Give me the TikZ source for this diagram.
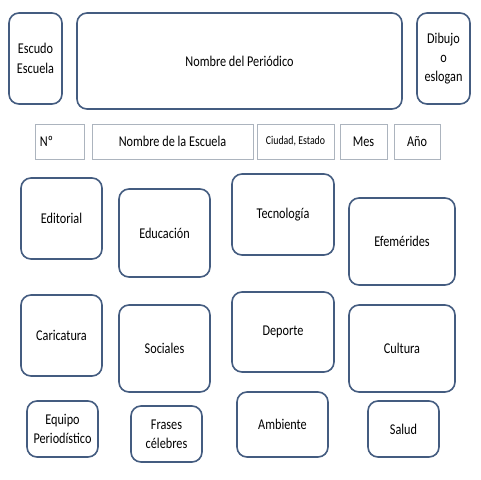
\documentclass[tikz,border=0pt]{standalone}
\usepackage{fontspec}
\setmainfont[FakeStretch=0.82]{Carlito}
\definecolor{boxline}{RGB}{68,92,128}
\definecolor{cellline}{RGB}{172,180,190}

\tikzstyle{section}=[draw=boxline,line width=1.2pt,rounded corners=7.5pt,align=center,inner sep=0pt,font=\fontsize{11.2}{14.5}\selectfont]
\tikzstyle{cell}=[draw=cellline,line width=0.7pt,align=center,inner sep=0pt,font=\fontsize{11.2}{14.5}\selectfont]
\tikzset{sz/.style 2 args={minimum width=#1*0.75pt,minimum height=#2*0.75pt}}

\begin{document}
\begin{tikzpicture}[x=0.75pt,y=-0.75pt]
	\useasboundingbox[fill=white] (0,0) rectangle (480,480);
			% cabecera
			\node[section,sz={53}{91}] (escudo) at (35.5,58.5) {Escudo\\Escuela};
			\node[section,sz={325}{96}] (nombre) at (239.5,61) {Nombre del Periódico};
			\node[section,sz={53}{91}] (dibujo) at (443.5,58.5) {Dibujo\\o\\eslogan};
			% datos
			\node[cell,sz={49}{35},text width=39*0.75pt,align=left,inner xsep=3.75pt] (numero) at (59.5,141.5) {Nº};
			\node[cell,sz={161}{35}] (escuela) at (172.5,141.5) {Nombre de la Escuela};
			\node[cell,sz={77}{35},font=\fontsize{9}{10}\selectfont] (ciudad) at (295.5,141.5) {Ciudad, Estado};
			\node[cell,sz={47}{35}] (mes) at (363.5,141.5) {Mes};
			\node[cell,sz={46}{35}] (anio) at (417,141.5) {Año};
			% secciones
			\node[section,sz={81}{81}] (editorial) at (61.5,218.5) {Editorial};
			\node[section,sz={91}{88}] (educacion) at (164.5,233) {Educación};
			\node[section,sz={102}{81}] (tecnologia) at (283,214.5) {Tecnología};
			\node[section,sz={106}{87}] (efemerides) at (402,241.5) {Efemérides};
			\node[section,sz={81}{81}] (caricatura) at (61.5,335.5) {Caricatura};
			\node[section,sz={91}{87}] (sociales) at (164.5,348.5) {Sociales};
			\node[section,sz={102}{80}] (deporte) at (283,332) {Deporte};
			\node[section,sz={106}{87}] (cultura) at (402,348.5) {Cultura};
			\node[section,sz={71}{56}] (equipo) at (62.5,429) {Equipo\\Periodístico};
			\node[section,sz={71}{56}] (frases) at (166.5,434) {Frases\\célebres};
			\node[section,sz={91}{65}] (ambiente) at (282.5,424.5) {Ambiente};
			\node[section,sz={71}{56}] (salud) at (403.5,429) {Salud};
\end{tikzpicture}
\end{document}
